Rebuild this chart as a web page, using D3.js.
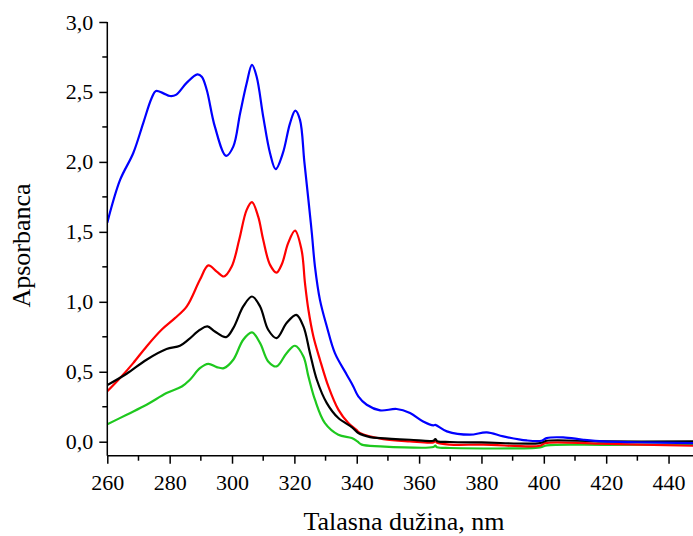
<!DOCTYPE html>
<html><head><meta charset="utf-8">
<script src="https://cdn.jsdelivr.net/npm/d3@7"></script>
<style>body{margin:0;background:#fff}svg{display:block}text{font-family:'Liberation Serif','Times New Roman',serif}</style>
</head><body>
<svg id="c" width="693" height="536"></svg>
<script>
const xTicks = [260,280,300,320,340,360,380,400,420,440];
const yTicks = [0,0.5,1.0,1.5,2.0,2.5,3.0];
const xLabel = "Talasna dužina, nm";
const yLabel = "Apsorbanca";

const blueWl = [260,264.1,268.3,271.5,274.2,275.6,278,280.1,282,285.5,288.9,290.3,291.9,294.5,298.1,300.4,302.6,304.7,306.4,307.9,310,312.2,314,316.3,318.6,320.3,321.8,323.2,324.5,325.6,326.6,328.2,330.4,333,336.8,338.9,340.5,343.2,347.5,352.8,357.1,361.3,364.6,365.2,368.9,376.3,381.7,387,394.5,399.3,400.9,406.2,412.7,419.1,430,447.8,452];
const blueA  = [1.566,1.871,2.062,2.276,2.455,2.507,2.49,2.471,2.479,2.567,2.626,2.609,2.514,2.252,2.043,2.109,2.348,2.562,2.693,2.609,2.324,2.062,1.948,2.062,2.276,2.366,2.3,2.0,1.729,1.49,1.252,1.014,0.824,0.633,0.479,0.395,0.324,0.264,0.224,0.234,0.205,0.145,0.117,0.12,0.074,0.05,0.067,0.038,0.009,0.007,0.026,0.031,0.014,0.002,-0.004,-0.01,-0.011];

const redWl = [260,264.1,268.3,272.6,277.4,281.7,285.5,289.7,292.4,295.1,297.4,299.9,302.3,304.7,306.4,308.4,310,312.2,314.3,316,318,320.2,322.3,323.4,324.5,326.1,328.2,330.9,334.1,337.3,339.8,341,348.5,357.1,364.6,365.2,365.8,369.9,380.6,398.8,400.4,418,447.8,452];
const redA  = [0.36,0.455,0.562,0.681,0.8,0.883,0.967,1.157,1.26,1.216,1.181,1.252,1.443,1.657,1.712,1.609,1.443,1.264,1.209,1.27,1.419,1.509,1.371,1.133,0.943,0.752,0.586,0.395,0.229,0.133,0.086,0.062,0.019,0.002,-0.005,0.005,-0.008,-0.021,-0.021,-0.029,-0.01,-0.014,-0.029,-0.03];

const blackWl = [260,266.2,272.6,279,283.3,286,289.7,292.1,294.5,298.1,300.4,303.6,306.4,309,311.6,314.3,317.5,320.6,322.9,325,327.2,330.4,334.1,338.4,340.5,344.3,347.5,357.1,364.6,365.2,365.8,369.9,380,398.8,400.9,419,447.8,452];
const blackA  = [0.405,0.486,0.586,0.662,0.686,0.729,0.8,0.824,0.788,0.748,0.812,0.967,1.038,0.967,0.8,0.74,0.848,0.907,0.824,0.633,0.443,0.276,0.169,0.105,0.062,0.033,0.026,0.014,0.007,0.018,0.004,-0.002,-0.005,-0.01,0.007,0.002,0.002,0.002];

const greenWl = [260,266.2,272.6,279,283.9,286.5,289.7,292.4,295.1,297.4,300.4,303.6,306.4,309,311.6,314.3,317.5,320.2,322.9,324.5,326.6,329.8,334.1,338.4,340.2,341.6,347.5,364.6,365.2,365.8,369.9,398.8,401,420,447.8,452];
const greenA  = [0.124,0.193,0.264,0.348,0.395,0.443,0.526,0.557,0.533,0.526,0.586,0.729,0.781,0.705,0.574,0.538,0.633,0.686,0.609,0.467,0.3,0.133,0.05,0.026,0.002,-0.021,-0.033,-0.038,-0.028,-0.04,-0.045,-0.04,-0.026,-0.022,-0.02,-0.02];

const series = [
  {wl: greenWl, a: greenA, color: "#1ec81e"},
  {wl: redWl, a: redA, color: "#ff0000"},
  {wl: blackWl, a: blackA, color: "#000000"},
  {wl: blueWl, a: blueA, color: "#0000ff"}
];

const svg = d3.select("#c");
const x0 = 107.3, y0 = 455.7, yTop = 22;
const x = d3.scaleLinear().domain([260, 450]).range([x0, x0 + 190*3.118]);
const y = d3.scaleLinear().domain([-0.1, 3.0]).range([y0, yTop]);
const font = "'Liberation Serif','Times New Roman',serif";

svg.append("clipPath").attr("id","cp").append("rect")
  .attr("x", x0).attr("y", 0).attr("width", 700).attr("height", y0);

const line = d3.line().x(d => x(d[0])).y(d => y(d[1])).curve(d3.curveCatmullRom.alpha(0.5));
const g = svg.append("g").attr("clip-path","url(#cp)");
series.forEach(s => {
  g.append("path").datum(s.wl.map((w,i)=>[w, s.a[i]]))
    .attr("d", line).attr("fill","none").attr("stroke", s.color)
    .attr("stroke-width", 2.2).attr("stroke-linejoin","round");
});

// X axis
const xAxis = d3.axisBottom(x).tickValues(xTicks).tickSize(8).tickPadding(11)
  .tickFormat(d3.format("d"));
const gx = svg.append("g").attr("transform", `translate(0,${y0})`).call(xAxis);
const xMinor = d3.range(270, 450, 20);
gx.selectAll(".minor").data(xMinor).enter().append("line").attr("class","minor")
  .attr("x1", d=>x(d)).attr("x2", d=>x(d)).attr("y1",0).attr("y2",5).attr("stroke","#000").attr("stroke-width",1.5);
gx.select(".domain").attr("d", `M${x0},0H693`).attr("stroke-width",1.5);
gx.selectAll(".tick line").attr("stroke-width",1.5);
gx.selectAll("text").style("font-family", font).style("font-size", "22px").attr("fill","#000");

// Y axis
const fmt = d => d3.format(".1f")(d).replace(".", ",");
const yAxis = d3.axisLeft(y).tickValues(yTicks).tickSize(8).tickPadding(6).tickFormat(fmt);
const gy = svg.append("g").attr("transform", `translate(${x0},0)`).call(yAxis);
const yMinor = [0.25,0.75,1.25,1.75,2.25,2.75];
gy.selectAll(".minor").data(yMinor).enter().append("line").attr("class","minor")
  .attr("y1", d=>y(d)).attr("y2", d=>y(d)).attr("x1",0).attr("x2",-5).attr("stroke","#000").attr("stroke-width",1.5);
gy.select(".domain").attr("d", `M0,${yTop}V${y0}`).attr("stroke-width",1.5);
gy.selectAll(".tick line").attr("stroke-width",1.5);
gy.selectAll("text").style("font-family", font).style("font-size", "22px").attr("fill","#000");

svg.append("text").attr("x", 404).attr("y", 530).attr("text-anchor","middle")
  .style("font-family", font).style("font-size", "26px").text(xLabel);
svg.append("text").attr("transform","translate(30,245.5) rotate(-90)").attr("text-anchor","middle")
  .style("font-family", font).style("font-size", "26px").text(yLabel);
</script>
</body></html>
